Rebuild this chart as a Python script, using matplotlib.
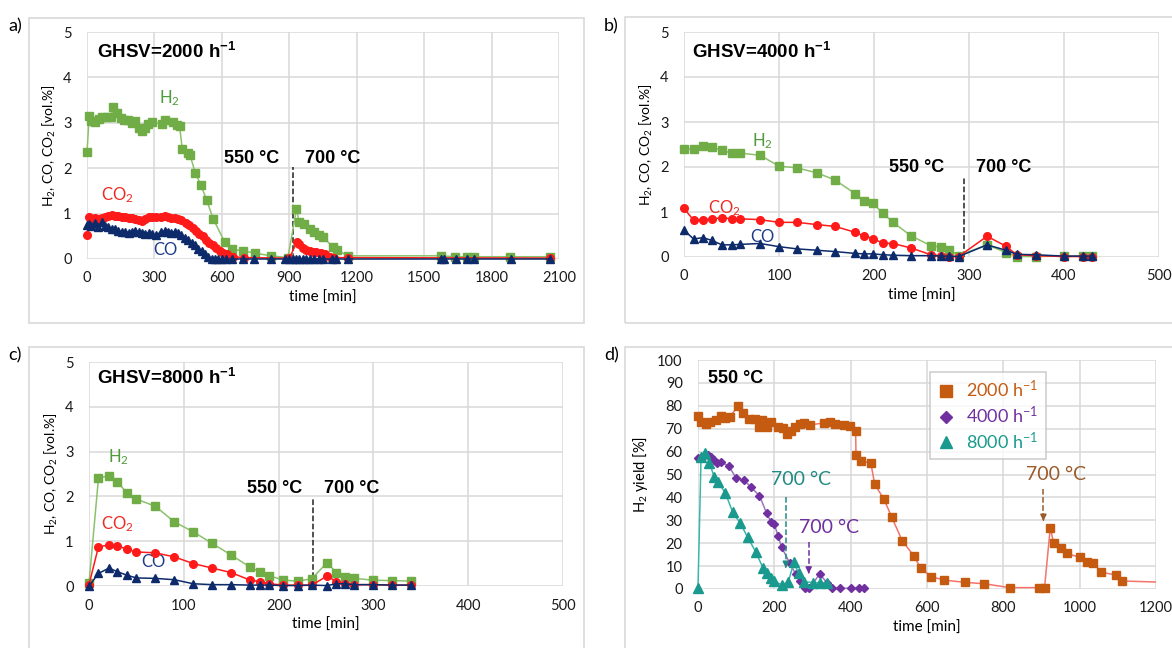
import numpy as np
import matplotlib
matplotlib.use('Agg')
import matplotlib.pyplot as plt
from matplotlib.patches import Rectangle
from matplotlib.lines import Line2D

plt.rcParams['font.family'] = ['Lato', 'DejaVu Sans']
plt.rcParams['mathtext.fontset'] = 'custom'
plt.rcParams['mathtext.rm'] = 'Lato'
plt.rcParams['mathtext.it'] = 'Lato:italic'
plt.rcParams['mathtext.bf'] = 'Liberation Sans:bold'

# ---- a) GHSV = 2000 h-1
t_a_h2 = [0, 10, 20, 35, 52, 65, 87, 108, 115, 132, 152, 165, 182, 198, 215, 232, 245, 257, 273, 290,
          332, 349, 382, 399, 412, 424, 449, 459, 482, 507, 532, 562, 612, 646, 696, 746, 819, 894, 932, 944,
          966, 991, 1012, 1032, 1052, 1094, 1111, 1161, 1575, 1638, 1691, 1720, 1883, 2058]
h2_a = [2.35, 3.16, 3.03, 3.01, 3.09, 3.13, 3.13, 3.13, 3.34, 3.22, 3.11, 3.07, 3.07, 3.0, 3.03, 2.89, 2.81, 2.89, 2.98, 3.01,
        2.98, 3.06, 3.01, 2.96, 2.92, 2.42, 2.33, 2.28, 1.89, 1.63, 1.30, 0.88, 0.38, 0.21, 0.18, 0.13, 0.07, 0.03, 1.10, 0.82,
        0.77, 0.66, 0.59, 0.53, 0.48, 0.26, 0.2, 0.07, 0.07, 0.05, 0.05, 0.05, 0.05, 0.05]
t_a_co2 = [0, 10, 20, 35, 50, 65, 80, 95, 110, 125, 140, 155, 170, 185, 200, 215, 230, 245, 260, 275,
           290, 305, 330, 345, 360, 375, 390, 405, 420, 440, 455, 470, 485, 500, 515, 530, 545, 560, 575, 590,
           605, 625, 650, 700, 900, 935, 945, 960, 975, 990, 1005, 1020, 1040, 1060, 1080, 1100, 1160, 2058]
co2_a = [0.53, 0.92, 0.88, 0.9, 0.88, 0.9, 0.93, 0.95, 0.97, 0.95, 0.95, 0.93, 0.93, 0.9, 0.9, 0.88, 0.87, 0.83, 0.88, 0.92,
         0.93, 0.92, 0.93, 0.95, 0.93, 0.9, 0.9, 0.88, 0.85, 0.8, 0.75, 0.68, 0.62, 0.55, 0.5, 0.42, 0.36, 0.3, 0.24, 0.18,
         0.14, 0.1, 0.05, 0.03, 0.02, 0.38, 0.32, 0.25, 0.2, 0.17, 0.15, 0.15, 0.13, 0.1, 0.05, 0.03, 0.03, 0.02]
t_a_co = [0, 10, 20, 35, 50, 65, 80, 95, 110, 125, 140, 155, 170, 185, 200, 215, 230, 245, 260, 275,
          290, 305, 330, 345, 360, 375, 390, 405, 420, 435, 450, 465, 480, 495, 510, 525, 540, 555, 570, 585,
          600, 620, 645, 695, 745, 820, 880, 900, 915, 930, 945, 960, 975, 990, 1010, 1030, 1050, 1090, 1110, 1160,
          1575, 1590, 1640, 1690, 1720, 1885, 2058]
co_a = [0.75, 0.78, 0.72, 0.8, 0.7, 0.82, 0.72, 0.7, 0.65, 0.65, 0.62, 0.6, 0.6, 0.58, 0.6, 0.62, 0.6, 0.58, 0.55, 0.58,
        0.55, 0.52, 0.6, 0.62, 0.6, 0.58, 0.6, 0.58, 0.52, 0.47, 0.42, 0.36, 0.3, 0.23, 0.17, 0.1, 0.05, 0.01, 0, 0,
        0, 0, 0, 0, 0, 0, 0, 0, 0, 0, 0, 0, 0, 0, 0, 0, 0, 0, 0, 0,
        0, 0, 0, 0, 0, 0, 0]

# ---- b) GHSV = 4000 h-1
t_b = [0, 10, 20, 29, 40, 50, 59, 80, 100, 119, 140, 159, 180, 189, 199, 209, 220, 239, 260, 270,
       279, 289, 319, 339, 350, 370, 400, 420, 429]
h2_b = [2.40, 2.40, 2.46, 2.45, 2.37, 2.31, 2.31, 2.26, 2.02, 1.98, 1.87, 1.71, 1.41, 1.24, 1.19, 0.98, 0.77, 0.47, 0.25, 0.22,
        0.16, 0.03, 0.27, 0.1, 0.01, 0.01, 0.02, 0.02, 0.02]
co2_b = [1.08, 0.82, 0.82, 0.85, 0.87, 0.85, 0.85, 0.83, 0.77, 0.77, 0.72, 0.68, 0.55, 0.47, 0.41, 0.31, 0.3, 0.2, 0.05, 0.03,
         0.01, 0.01, 0.46, 0.24, 0.05, 0.03, 0.01, 0.01, 0.01]
co_b = [0.6, 0.4, 0.43, 0.37, 0.27, 0.27, 0.28, 0.3, 0.23, 0.18, 0.15, 0.12, 0.08, 0.07, 0.07, 0.05, 0.04, 0.03, 0.03, 0.02,
        0.02, 0.01, 0.27, 0.15, 0.06, 0.05, 0.02, 0.02, 0.02]

# ---- c) GHSV = 8000 h-1
t_c = [0, 10, 21, 30, 40, 50, 70, 90, 110, 130, 150, 170, 180, 190, 205, 220, 235, 251, 261, 270, 280, 300, 320, 340]
h2_c = [0.06, 2.41, 2.46, 2.33, 2.07, 1.94, 1.78, 1.43, 1.21, 0.95, 0.69, 0.42, 0.32, 0.23, 0.13, 0.11, 0.16, 0.52, 0.3, 0.19,
        0.17, 0.13, 0.12, 0.11]
co2_c = [0.03, 0.88, 0.91, 0.9, 0.82, 0.76, 0.74, 0.65, 0.5, 0.4, 0.3, 0.13, 0.1, 0.05, 0.02, 0.02, 0.02, 0.22, 0.1, 0.05,
         0.03, 0.03, 0.02, 0.02]
co_c = [0.0, 0.28, 0.4, 0.32, 0.24, 0.18, 0.17, 0.14, 0.05, 0.03, 0.03, 0.02, 0.02, 0.02, 0.01, 0.01, 0.02, 0.01, 0.05, 0.05,
        0.03, 0.03, 0.02, 0.02]

# ---- d) H2 yield at 550 °C
t_2000 = [0, 8, 21, 32, 47, 59, 71, 84, 105, 117, 134, 150, 160, 168, 181, 190, 209, 222, 234, 243,
          254, 267, 278, 294, 331, 346, 358, 382, 397, 413, 414, 426, 453, 463, 487, 507, 535, 565, 584, 611,
          645, 699, 749, 817, 893, 908, 923, 932, 950, 966, 1000, 1018, 1036, 1057, 1096, 1110, 1230]
y_2000 = [75.7, 72.8, 72.1, 72.8, 73.8, 75.7, 74.8, 75.3, 79.9, 76.7, 74.1, 74.1, 70.9, 73.8, 70.9, 72.8, 70.9, 70.2, 67.5, 69.0,
          70.9, 72.1, 72.6, 71.6, 72.6, 73.1, 72.1, 71.6, 71.3, 69.0, 58.5, 56.0, 54.9, 45.7, 39.3, 31.6, 21.1, 14.6, 9.0, 5.4,
          3.9, 2.9, 2.3, 0.6, 0.6, 0.6, 26.8, 19.9, 17.8, 15.6, 13.8, 11.6, 11.2, 7.3, 6.1, 3.5, 2.9]
t_4000 = [0, 13, 25, 35, 42, 50, 61, 81, 100, 120, 139, 161, 180, 191, 200, 210, 219, 241, 256, 268,
          280, 292, 319, 339, 351, 371, 400, 421, 434]
y_4000 = [57.1, 57.8, 58.5, 57.5, 56.3, 54.9, 55.3, 53.7, 48.3, 47.6, 44.4, 40.8, 33.0, 29.4, 28.2, 23.1, 18.2, 11.2, 6.5, 3.5,
          0.3, 0.3, 6.6, 2.5, 0.3, 0.3, 0.3, 0.3, 0.3]
t_8000 = [0, 8, 19, 30, 42, 52, 72, 91, 111, 130, 151, 170, 180, 190, 200, 220, 237, 251, 264, 278, 300, 320, 339]
y_8000 = [0.6, 57.8, 59.2, 55.2, 49.1, 46.9, 41.8, 33.5, 28.7, 22.6, 16.3, 9.3, 6.8, 4.9, 3.5, 1.7, 3.2, 11.6, 6.8, 3.2,
          2.8, 2.8, 2.5]
legend_labels = ['2000 h$^{-1}$', '4000 h$^{-1}$', '8000 h$^{-1}$']

GRID = '#d9d9d9'
BOLD = ['Liberation Sans', 'DejaVu Sans']
C_H2, C_H2L = '#70ad47', '#8cc16c'
C_CO2 = '#ff1a1a'
C_CO = '#0d2a6b'


def style(ax, xmax, xstep, ymax, ystep):
    ax.set_xlim(0, xmax)
    ax.set_ylim(0, ymax)
    ax.set_xticks(np.arange(0, xmax + 1, xstep))
    ax.set_yticks(np.arange(0, ymax + 0.001, ystep))
    ax.grid(color=GRID, lw=1.1)
    ax.set_axisbelow(True)
    for s in ax.spines.values():
        s.set_visible(False)
    ax.tick_params(length=0, labelsize=10.5, colors='#1a1a1a')
    ax.tick_params(axis='y', pad=11)
    ax.tick_params(axis='x', pad=9)
    ax.set_xlabel('time [min]', fontsize=11, labelpad=4)


def gas(ax, th, h2, tc2, co2, tc, co, xmax, xstep, ghsv, tsw, pos):
    style(ax, xmax, xstep, 5, 1)
    ax.set_yticks([0, 1, 2, 3, 4, 5])
    ax.set_yticklabels(['0', '1', '2', '3', '4', '5'])
    ax.set_ylabel('H$_2$, CO, CO$_2$ [vol.%]', fontsize=10, labelpad=4)
    ax.plot(th, h2, '-s', color=C_H2L, mfc=C_H2, mec=C_H2, ms=5.5, lw=1.1, clip_on=False, zorder=3)
    ax.plot(tc2, co2, '-o', color=C_CO2, mfc=C_CO2, mec=C_CO2, ms=5.5, lw=1.1, clip_on=False, zorder=4)
    ax.plot(tc, co, '-^', color=C_CO, mfc=C_CO, mec=C_CO, ms=6, lw=1.1, clip_on=False, zorder=5)
    ax.text(pos['ghsv'][0], pos['ghsv'][1], 'GHSV=' + ghsv + r' h$^{\mathbf{-1}}$', family=BOLD,
            fontweight='bold', fontsize=13.5, va='center', ha='left')
    ax.text(*pos['h2'], 'H$_2$', color='#4f9a3a', fontsize=12, ha='center', va='center')
    ax.text(*pos['co2'], 'CO$_2$', color='#ec2a22', fontsize=12, ha='center', va='center')
    ax.text(*pos['co'], 'CO', color='#1f3c88', fontsize=12, ha='center', va='center')
    ax.text(pos['t550'][0], pos['t550'][1], '550 °C', family=BOLD, fontweight='bold', fontsize=13,
            ha='center', va='center')
    ax.text(pos['t700'][0], pos['t700'][1], '700 °C', family=BOLD, fontweight='bold', fontsize=13,
            ha='center', va='center')
    ax.plot([tsw, tsw], [0, pos['t550'][1] - 0.2], '--', color='#222222', lw=1.1, zorder=2)


fig = plt.figure(figsize=(11.72, 6.48), dpi=100)
W, H = 1172., 648.

# panel frames (pixel boxes converted to figure fractions)
for x0, y0, x1, y1 in [(29, 18, 584, 323), (625, 17, 1180, 323), (29, 347, 584, 655), (625, 347, 1180, 655)]:
    fig.patches.append(Rectangle((x0 / W, 1 - y1 / H), (x1 - x0) / W, (y1 - y0) / H,
                                 transform=fig.transFigure, fill=False, ec='#d9d9d9', lw=1.2))
for lab, x, y in [('a)', 8, 26), ('b)', 604, 26), ('c)', 8, 355), ('d)', 604, 355)]:
    fig.text(x / W, 1 - y / H, lab, fontsize=13, va='center', ha='left')

ax_a = fig.add_axes([87 / W, 1 - 259 / H, 472 / W, 227 / H])
gas(ax_a, t_a_h2, h2_a, t_a_co2, co2_a, t_a_co, co_a, 2100, 300, '2000', 916,
    {'ghsv': (45, 4.56), 'h2': (365, 3.55), 'co2': (137, 1.41), 'co': (349, 0.2),
     't550': (732, 2.22), 't700': (1091, 2.22)})

ax_b = fig.add_axes([684 / W, 1 - 257 / H, 475 / W, 225 / H])
gas(ax_b, t_b, h2_b, t_b, co2_b, t_b, co_b, 500, 100, '4000', 295,
    {'ghsv': (8, 4.56), 'h2': (83, 2.57), 'co2': (42, 1.09), 'co': (83, 0.45),
     't550': (245, 1.98), 't700': (337, 1.98)})

ax_c = fig.add_axes([89 / W, 1 - 586 / H, 474 / W, 224 / H])
gas(ax_c, t_c, h2_c, t_c, co2_c, t_c, co_c, 500, 100, '8000', 236,
    {'ghsv': (8, 4.64), 'h2': (31, 2.88), 'co2': (30, 1.38), 'co': (68, 0.53),
     't550': (196, 2.18), 't700': (277, 2.18)})

# ---- d)
ax_d = fig.add_axes([698 / W, 1 - 589 / H, 458 / W, 229 / H])
style(ax_d, 1200, 200, 100, 10)
ax_d.set_ylabel('H$_2$ yield [%]', fontsize=10.5, labelpad=5)
c2000, c4000, c8000 = '#c55a11', '#7030a0', '#1a9a8e'
t2 = np.array(t_2000)
y2 = np.array(y_2000)
ax_d.plot(t2, y2, '-', color='#f4736b', lw=1.1, zorder=3)
m = t2 <= 1200
ax_d.plot(t2[m], y2[m], 's', color=c2000, ms=6, clip_on=False, zorder=4)
ax_d.plot(t_4000, y_4000, '-D', color='#9a76c2', mfc=c4000, mec=c4000, ms=4.5, lw=1.1, clip_on=False, zorder=4)
ax_d.plot(t_8000, y_8000, '-^', color='#3ab5ab', mfc=c8000, mec=c8000, ms=6.5, lw=1.1, clip_on=False, zorder=5)

ax_d.text(27, 92, '550 °C', family=BOLD, fontweight='bold', fontsize=13, va='center', ha='left')
for tx, ty, x, y0, y1, col in [(271, 47.6, 230, 40, 8, '#1f8a85'), (343, 27.0, 290, 20.5, 5.5, '#7030a0'),
                               (937, 49.8, 905, 43.5, 28.5, '#9b5a28')]:
    ax_d.text(tx, ty, '700 °C', color=col, fontsize=14, ha='center', va='center')
    ax_d.plot([x, x], [y0, y1 + 2], '--', color=col, lw=1.1, zorder=6)
    ax_d.annotate('', xy=(x, y1), xytext=(x, y1 + 3),
                  arrowprops=dict(arrowstyle='-|>', color=col, lw=1.1, mutation_scale=9), zorder=6)

handles = [Line2D([], [], ls='none', marker='s', color=c2000, ms=8),
           Line2D([], [], ls='none', marker='D', color=c4000, ms=6),
           Line2D([], [], ls='none', marker='^', color=c8000, ms=9)]
leg = ax_d.legend(handles, legend_labels, loc='upper left', bbox_to_anchor=(0.507, 0.948), borderaxespad=0,
                  fontsize=13, frameon=True, fancybox=False, edgecolor='#bfbfbf', handlelength=1.0,
                  handletextpad=0.6, labelspacing=0.25, borderpad=0.4)
leg.get_frame().set_linewidth(1.1)
for txt, col in zip(leg.get_texts(), [c2000, c4000, c8000]):
    txt.set_color(col)

fig.savefig('out.png', dpi=100)
